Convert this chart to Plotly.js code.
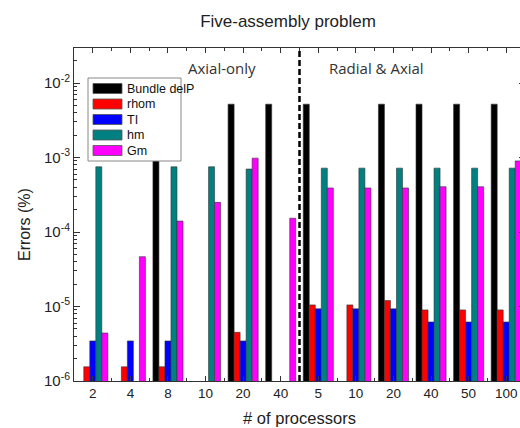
<!DOCTYPE html>
<html><head><meta charset="utf-8">
<script src="https://cdn.plot.ly/plotly-3.0.1.min.js"></script>
<style>html,body{margin:0;padding:0;overflow:hidden;background:#fff}#chart{width:540px;height:428px}</style>
</head><body><div id="chart"></div>
<script>
// ---- data ----
const categories = ['2','4','8','10','20','40','5','10','20','40','50','100'];
const seriesNames = ['Bundle delP','rhom','TI','hm','Gm'];
const seriesColors = ['#000000','#ff0000','#0000ff','#008080','#ff00ff'];
const bundleDelP = [null, null, 5.2e-3, null, 5.2e-3, 5.2e-3, 5.2e-3, null, 5.2e-3, 5.2e-3, 5.2e-3, 5.2e-3];
const rhom       = [1.55e-6, 1.55e-6, 1.55e-6, null, 4.5e-6, null, 1.05e-5, 1.05e-5, 1.2e-5, 9.0e-6, 9.0e-6, 9.0e-6];
const TI         = [3.45e-6, 3.45e-6, 3.45e-6, null, 3.45e-6, null, 9.3e-6, 9.3e-6, 9.3e-6, 6.2e-6, 6.2e-6, 6.2e-6];
const hm         = [7.5e-4, null, 7.5e-4, 7.5e-4, 7.0e-4, null, 7.2e-4, 7.2e-4, 7.2e-4, 7.2e-4, 7.2e-4, 7.2e-4];
const Gm         = [4.4e-6, 4.66e-5, 1.4e-4, 2.5e-4, 9.8e-4, 1.53e-4, 3.9e-4, 3.9e-4, 3.9e-4, 4.05e-4, 4.05e-4, 9.0e-4];
const groupLabels = ['Axial-only', 'Radial & Axial'];
const yTickVals = [1e-6, 1e-5, 1e-4, 1e-3, 1e-2];
const yTickText = ['10<sup>-6</sup>','10<sup>-5</sup>','10<sup>-4</sup>','10<sup>-3</sup>','10<sup>-2</sup>'];

// ---- build ----
const seriesValues = [bundleDelP, rhom, TI, hm, Gm];
const idx = categories.map((c, i) => i);
const traces = seriesNames.map((n, k) => ({
  type: 'bar', name: n, x: idx, y: seriesValues[k],
  marker: {color: seriesColors[k], line: {color: '#333', width: 0.6}},
  showlegend: false
}));

const xMinor = [];
for (let i = 0; i <= categories.length; i++) xMinor.push(i - 0.5);
const yMinor = [];
for (let e = -6; e <= -2; e++) for (let m = 2; m <= 9; m++) yMinor.push(m * Math.pow(10, e));

// plot area in px: x 74..525, y 48..381
const PX0 = 74, PX1 = 525, PY0 = 48, PY1 = 381;
const px = v => (v - PX0) / (PX1 - PX0);
const py = v => (PY1 - v) / (PY1 - PY0);
const arial = 'Liberation Sans, Arial, sans-serif';

const shapes = [
  {type: 'line', xref: 'x', yref: 'paper', x0: 5.5, x1: 5.5, y0: 0, y1: 1,
   line: {color: '#000', width: 2.5, dash: '6px,3px'}, layer: 'above'},
  {type: 'rect', xref: 'paper', yref: 'paper', x0: px(88), x1: px(181), y0: py(161), y1: py(78),
   fillcolor: '#fff', line: {color: '#888', width: 1}, layer: 'above'}
];
const annotations = [
  {text: groupLabels[0], xref: 'paper', yref: 'paper', x: px(222), y: py(68), showarrow: false,
   xanchor: 'center', yanchor: 'middle', font: {family: 'Open Sans, sans-serif', size: 15, color: '#333'}},
  {text: groupLabels[1], xref: 'paper', yref: 'paper', x: px(376), y: py(68), showarrow: false,
   xanchor: 'center', yanchor: 'middle', font: {family: 'Open Sans, sans-serif', size: 15, color: '#333'}},
  {text: 'Errors (%)', xref: 'paper', yref: 'paper', x: px(24), y: py(225), showarrow: false,
   textangle: -90, xanchor: 'center', yanchor: 'middle', font: {family: arial, size: 16, color: '#222'}}
];
const rowY = [88.5, 104, 119.5, 135, 150.5];
seriesNames.forEach((n, k) => {
  shapes.push({type: 'rect', xref: 'paper', yref: 'paper', x0: px(93), x1: px(122),
    y0: py(rowY[k] + 5), y1: py(rowY[k] - 5), fillcolor: seriesColors[k],
    line: {color: '#555', width: 0.8}, layer: 'above'});
  annotations.push({text: n, xref: 'paper', yref: 'paper', x: px(125), y: py(rowY[k]),
    showarrow: false, xanchor: 'left', yanchor: 'middle',
    font: {family: arial, size: 12.5, color: '#111'}});
});

const layout = {
  width: 540, height: 428,
  margin: {l: PX0, r: 540 - PX1, t: PY0, b: 428 - PY1},
  paper_bgcolor: '#fff', plot_bgcolor: '#fff',
  barmode: 'group', bargap: 0.2, bargroupgap: 0,
  title: {text: 'Five-assembly problem', xref: 'container', yref: 'container',
    x: 288 / 540, y: 1 - 21 / 428, xanchor: 'center', yanchor: 'middle',
    font: {family: arial, size: 17, color: '#222'}},
  xaxis: {
    range: [-0.5, 11.5], tickmode: 'array', tickvals: idx, ticktext: categories,
    ticks: 'inside', ticklen: 5, tickcolor: '#333', showline: true, linecolor: '#333', linewidth: 1,
    mirror: 'ticks', showgrid: false, zeroline: false,
    tickfont: {family: arial, size: 13.5, color: '#222'},
    minor: {tickmode: 'array', tickvals: xMinor, ticks: 'inside', ticklen: 3, tickcolor: '#333', showgrid: false},
    title: {text: '# of processors', font: {family: arial, size: 16.5, color: '#222'}, standoff: 12}
  },
  yaxis: {
    type: 'log', range: [-6, -1.53], tickmode: 'array', tickvals: yTickVals, ticktext: yTickText,
    ticks: 'inside', ticklen: 6, tickcolor: '#333', showline: true, linecolor: '#333', linewidth: 1,
    mirror: 'ticks', showgrid: false, zeroline: false,
    tickfont: {family: arial, size: 15, color: '#222'},
    minor: {tickmode: 'array', tickvals: yMinor, ticks: 'inside', ticklen: 3, tickcolor: '#333', showgrid: false}
  },
  shapes: shapes, annotations: annotations
};
Plotly.newPlot('chart', traces, layout, {displayModeBar: false, staticPlot: true});
</script></body></html>
